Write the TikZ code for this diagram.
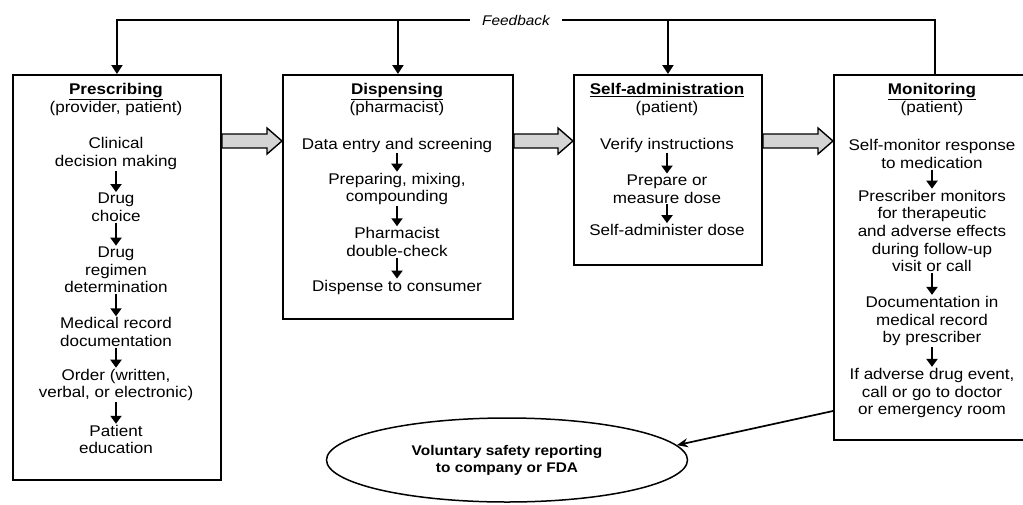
\documentclass[tikz,border=0pt]{standalone}
\usepackage{fontspec}
\setmainfont{Liberation Sans}[FakeStretch=1.1]
\usetikzlibrary{arrows.meta,shapes.geometric,calc}
\tikzset{
  stage/.style={draw,line width=1.9pt,anchor=north west,inner sep=0pt},
  txt/.style={align=center,inner sep=1pt,font=\fontsize{15.5}{17.7}\selectfont},
  flowarr/.style={line width=2.6pt,-{Triangle[width=11pt,length=8pt]}},
  fbline/.style={line width=2pt},
  fbarr/.style={line width=2pt,-{Triangle[width=11pt,length=9pt]}},
  blockarr/.style={draw,line width=1.4pt,fill=black!17,line join=miter},
  reparr/.style={line width=1.7pt,-{Stealth[length=11pt,width=9pt]}}
}
% grey block arrow between two stages
\newcommand\blockarrow[2]{%
  \draw[blockarr] (#1.east |- 0,134) -- ($(#2.west |- 0,134)+(-15,0)$) -- ++(0,-6)
    -- (#2.west |- 0,141) -- ($(#2.west |- 0,154)+(-15,0)$) -- ++(0,-6)
    -- (#1.east |- 0,148) -- cycle;}
\begin{document}
\begin{tikzpicture}[x=1pt,y=-1pt]
\clip (0,0) rectangle (1023,504);
% stages
\node[stage,minimum width=208pt,minimum height=405pt] (presc) at (12,74) {};
\node[stage,minimum width=230pt,minimum height=244pt] (disp) at (282,74) {};
\node[stage,minimum width=188pt,minimum height=190pt] (selfadm) at (573,74) {};
\node[stage,minimum width=202pt,minimum height=365pt] (mon) at (833,74) {};
\blockarrow{presc}{disp}
\blockarrow{disp}{selfadm}
\blockarrow{selfadm}{mon}
% feedback
\node[font=\fontsize{14}{16}\selectfont\itshape,inner xsep=12pt,inner ysep=0pt] (fb) at (516,20) {Feedback};
\draw[fbarr] (fb.west) -| (presc.north);
\draw[fbline] (fb.east) -| (mon.north);
\draw[fbarr] (disp.north |- fb) -- (disp.north);
\draw[fbarr] (selfadm.north |- fb) -- (selfadm.north);
% prescribing
\node[txt] (ptitle) at (116,99.5) {\underline{\textbf{Prescribing}}\\(provider, patient)};
\node[txt] (c1) at (116,153.5) {Clinical\\decision making};
\node[txt] (c2) at (116,207.5) {Drug\\choice};
\node[txt] (c3) at (116,270) {Drug\\regimen\\determination};
\node[txt] (c4) at (116,332) {Medical record\\documentation};
\node[txt] (c5) at (116,385) {Order (written,\\verbal, or electronic)};
\node[txt] (c6) at (116,439.5) {Patient\\education};
% dispensing
\node[txt] (dtitle) at (397,99.5) {\underline{\textbf{Dispensing}}\\(pharmacist)};
\node[txt] (d1) at (397,145) {Data entry and screening};
\node[txt] (d2) at (397,189) {Preparing, mixing,\\compounding};
\node[txt] (d3) at (397,242) {Pharmacist\\double-check};
\node[txt] (d4) at (397,287) {Dispense to consumer};
% self-administration
\node[txt] (stitle) at (667,99.5) {\underline{\textbf{Self-administration}}\\(patient)};
\node[txt] (s1) at (667,145) {Verify instructions};
\node[txt] (s2) at (667,189) {Prepare or\\measure dose};
\node[txt] (s3) at (667,230) {Self-administer dose};
% monitoring
\node[txt] (mtitle) at (932,99.5) {\underline{\textbf{Monitoring}}\\(patient)};
\node[txt] (m1) at (932,154) {Self-monitor response\\to medication};
\node[txt] (m2) at (932,231) {Prescriber monitors\\for therapeutic\\and adverse effects\\during follow-up\\visit or call};
\node[txt] (m3) at (932,321) {Documentation in\\medical record\\by prescriber};
\node[txt] (m4) at (932,393) {If adverse drug event,\\call or go to doctor\\or emergency room};
\foreach \a/\b in {c1/c2,c2/c3,c3/c4,c4/c5,c5/c6,d1/d2,d2/d3,d3/d4,s1/s2,s2/s3,m1/m2,m2/m3,m3/m4}
  \draw[flowarr] (\a) -- (\b);
% reporting
\node[draw,ellipse,line width=1.5pt,minimum width=361pt,minimum height=84pt,inner sep=0pt,
  align=center,font=\fontsize{14}{17}\selectfont\bfseries] (vol) at (507,460)
  {Voluntary safety reporting\\to company or FDA};
\coordinate (rep) at (mon.west |- 0,411);
\draw[reparr] (rep) -- (vol.5);
\end{tikzpicture}
\end{document}
